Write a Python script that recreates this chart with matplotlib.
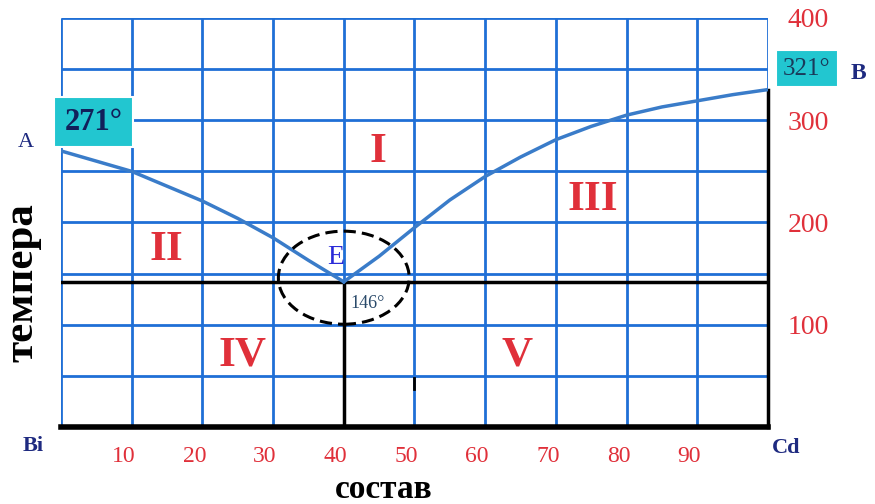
import matplotlib
matplotlib.use("Agg")
import matplotlib.pyplot as plt
from matplotlib.patches import Ellipse
from matplotlib.transforms import ScaledTranslation

# phase diagram Bi-Cd
left_x = [0, 5, 10, 20, 25, 30, 35, 40]
left_t = [270, 260, 250, 221, 204, 185, 163, 142]
right_x = [40, 45, 50, 55, 60, 65, 70, 75, 80, 85, 90, 95, 100]
right_t = [142, 167, 195, 222, 245, 264, 281, 294, 305, 313, 319, 325, 330]
eutectic_x = 40
eutectic_t = 142
x_ticks = [10, 20, 30, 40, 50, 60, 70, 80, 90]
y_ticks = [100, 200, 300, 400]
regions = ["I", "II", "III", "IV", "V"]
region_x = [44.8, 14.9, 75.2, 25.7, 64.5]
region_t = [269, 173, 222, 70, 70]

GRID = "#1f6fd6"
CURVE = "#3a7cc9"
RED = "#e0303a"
NAVY = "#1e2a80"
SERIF = ["Liberation Serif", "DejaVu Serif"]

fig = plt.figure(figsize=(8.75, 5.04), dpi=100)
ax = fig.add_axes([0.0697, 0.1528, 0.808, 0.8115])
ax.set_xlim(0, 100)
ax.set_ylim(0, 400)

# grid
for gx in range(0, 101, 10):
    ax.plot([gx, gx], [0, 400], color=GRID, lw=2, zorder=1, solid_capstyle="butt")
for gy in range(50, 401, 50):
    ax.plot([0, 100], [gy, gy], color=GRID, lw=2, zorder=1, solid_capstyle="butt")

# black lines
ax.plot([0, 100], [eutectic_t, eutectic_t], color="black", lw=2.5, zorder=2)
ax.plot([0, 100], [0, 0], color="black", lw=4, zorder=2, clip_on=False)
ax.plot([eutectic_x, eutectic_x], [0, eutectic_t], color="black", lw=2.5, zorder=2)
ax.plot([100, 100], [0, right_t[-1]], color="black", lw=2.5, zorder=2, clip_on=False)
ax.plot([50, 50], [37, 48], color="black", lw=2, zorder=2)

# liquidus
ax.plot(left_x, left_t, color=CURVE, lw=2.5, zorder=3, solid_joinstyle="round")
ax.plot(right_x, right_t, color=CURVE, lw=2.5, zorder=3, solid_joinstyle="round")

ax.add_patch(Ellipse((eutectic_x, 146), 18.5, 91, fill=False, ec="black",
                     lw=2.2, ls=(0, (4, 2)), zorder=4))

for s, rx, rt in zip(regions, region_x, region_t):
    ax.text(rx, rt, s, color=RED, fontsize=31, fontweight="bold",
            family=SERIF, ha="center", va="center", zorder=5)

ax.text(38.9, 166, "E", color="#2a2ad8", fontsize=20, family=SERIF,
        ha="center", va="center", zorder=5)
ax.text(43.3, 121, "146°", color="#2a4a6a", fontsize=13, family=SERIF,
        ha="center", va="center", zorder=5)

box = dict(boxstyle="square,pad=0.35", fc="#22c6d0", ec="white", lw=1.5)
ax.text(4.6, 298, "271°", color="#12205a", fontsize=22, fontweight="bold",
        family=SERIF, ha="center", va="center", bbox=box, zorder=6)
box2 = dict(boxstyle="square,pad=0.3", fc="#22c6d0", ec="white", lw=1.5)
ax.text(105.5, 350.6, "321°", color="#1a3a5a", fontsize=18,
        family=SERIF, ha="center", va="center", bbox=box2, zorder=6,
        clip_on=False)

ax.text(-5, 278, "A", color=NAVY, fontsize=16, family=SERIF,
        ha="center", va="center")
ax.text(112.8, 346, "B", color=NAVY, fontsize=17, fontweight="bold",
        family=SERIF, ha="center", va="center")
ax.text(-4, -19, "Bi", color=NAVY, fontsize=16, fontweight="bold",
        family=SERIF, ha="center", va="center")
ax.text(102.5, -21, "Cd", color=NAVY, fontsize=16, fontweight="bold",
        family=SERIF, ha="center", va="center")

ax.set_xticks(x_ticks)
ax.set_xticklabels([str(v) for v in x_ticks], color=RED, fontsize=17,
                   family=SERIF)
ax.set_yticks(y_ticks)
ax.set_yticklabels([str(v) for v in y_ticks], color=RED, fontsize=20,
                   family=SERIF)
ax.yaxis.tick_right()
ax.tick_params(axis="y", length=0, pad=14)
ax.tick_params(axis="x", length=0, pad=14)
shift = ScaledTranslation(-0.08, 0, fig.dpi_scale_trans)
for lbl in ax.get_xticklabels():
    lbl.set_transform(lbl.get_transform() + shift)
for sp in ax.spines.values():
    sp.set_visible(False)

fig.text(0.438, 0.028, "состав", fontsize=24, fontweight="bold",
         family=SERIF, ha="center", va="center")
fig.text(0.026, 0.44, "темпера", fontsize=31, fontweight="bold",
         family=SERIF, ha="center", va="center", rotation=90)

fig.savefig("out.png", dpi=100)
